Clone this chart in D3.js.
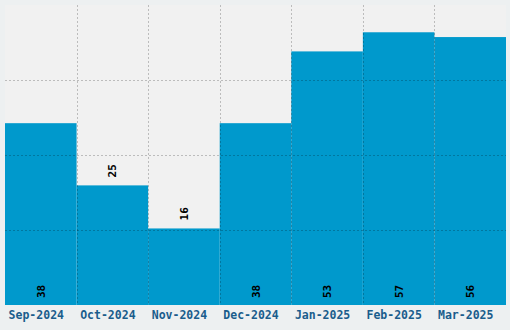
<!DOCTYPE html>
<html>
<head>
<meta charset="utf-8">
<script src="https://cdn.jsdelivr.net/npm/d3@7"></script>
<style>
  html, body { margin: 0; padding: 0; background: #edf0f1; }
  svg { display: block; }
</style>
</head>
<body>
<div id="chart"></div>
<script>
const months = ["Sep-2024", "Oct-2024", "Nov-2024", "Dec-2024", "Jan-2025", "Feb-2025", "Mar-2025"];
const counts = [38, 25, 16, 38, 53, 57, 56];

const width = 510;
const height = 330;
const margin = { top: 5, right: 4, bottom: 25, left: 5 };
const plotW = width - margin.left - margin.right;
const plotH = height - margin.top - margin.bottom;
const monoFont = "'DejaVu Sans Mono', monospace";

const svg = d3.select("#chart")
  .append("svg")
  .attr("width", width)
  .attr("height", height);

const g = svg.append("g")
  .attr("transform", `translate(${margin.left},${margin.top})`);

// plot background
g.append("rect")
  .attr("width", plotW)
  .attr("height", plotH)
  .attr("fill", "#f1f1f1");

const xScale = d3.scaleBand()
  .domain(months)
  .range([0, plotW])
  .padding(0);

const yScale = d3.scaleLinear()
  .domain([0, d3.max(counts) * 1.1])
  .range([plotH, 0]);

// bars
g.selectAll(".bar")
  .data(counts)
  .join("rect")
  .attr("class", "bar")
  .attr("x", (d, i) => xScale(months[i]))
  .attr("y", d => yScale(d))
  .attr("width", xScale.bandwidth())
  .attr("height", d => plotH - yScale(d))
  .attr("fill", "#0099cc");

// grid drawn over the bars, 4 even divisions
const yTicks = d3.range(1, 4).map(k => yScale.domain()[1] * k / 4);
g.append("g")
  .selectAll("line")
  .data(yTicks)
  .join("line")
  .attr("x1", 0)
  .attr("x2", plotW)
  .attr("y1", d => Math.round(yScale(d)) + 0.5)
  .attr("y2", d => Math.round(yScale(d)) + 0.5)
  .attr("stroke", "rgba(0,0,0,0.22)")
  .attr("stroke-dasharray", "2,2");

g.append("g")
  .selectAll("line")
  .data(months.slice(1))
  .join("line")
  .attr("x1", d => Math.round(xScale(d)) + 0.5)
  .attr("x2", d => Math.round(xScale(d)) + 0.5)
  .attr("y1", 0)
  .attr("y2", plotH)
  .attr("stroke", "rgba(0,0,0,0.22)")
  .attr("stroke-dasharray", "2,2");

// value labels, rotated; short bars get the label above the bar
g.selectAll(".val")
  .data(counts)
  .join("text")
  .attr("class", "val")
  .attr("transform", (d, i) => {
    const cx = xScale(months[i]) + xScale.bandwidth() / 2 + 4;
    const cy = d < 30 ? yScale(d) - 8 : plotH - 7;
    return `translate(${cx},${cy}) rotate(-90)`;
  })
  .attr("font-family", monoFont)
  .attr("font-weight", "bold")
  .attr("font-size", "11px")
  .attr("fill", "#000")
  .text(d => d);

// x axis labels
const xAxis = d3.axisBottom(xScale).tickSize(0).tickPadding(0);
const xAxisGroup = g.append("g")
  .attr("transform", `translate(0,${plotH})`)
  .call(xAxis);
xAxisGroup.select(".domain").remove();
xAxisGroup.selectAll("text")
  .attr("y", 14)
  .attr("dy", 0)
  .attr("dx", -4.5)
  .attr("font-family", monoFont)
  .attr("font-weight", "bold")
  .attr("font-size", "11.5px")
  .attr("fill", "#1a5d8c");
</script>
</body>
</html>
